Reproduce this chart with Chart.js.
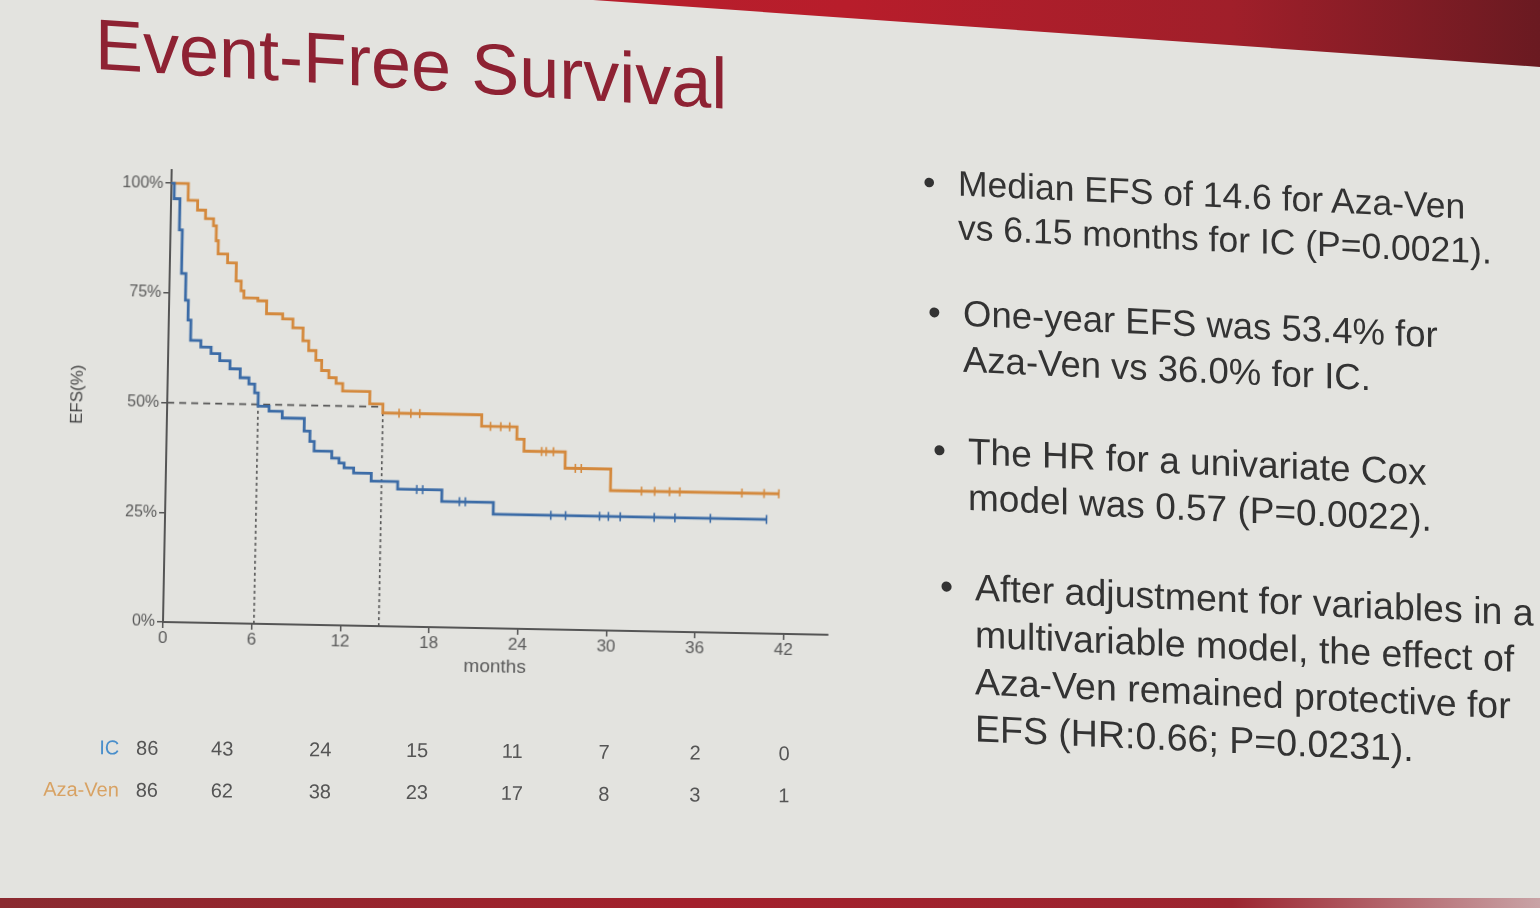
<!DOCTYPE html>
<html>
<head>
<meta charset="utf-8">
<title>Event-Free Survival</title>
<script src="https://cdn.jsdelivr.net/npm/chart.js@4.4.1/dist/chart.umd.min.js"></script>
<style>
  html, body { margin: 0; padding: 0; }
  body {
    position: relative; width: 1540px; height: 908px; overflow: hidden;
    background: #e3e3df; font-family: "Liberation Sans", Arial, sans-serif;
  }
  .band-top {
    position: absolute; left: 0; top: 0; width: 1540px; height: 70px;
    background: linear-gradient(90deg, #b3232f 0%, #b81d2b 55%, #a01f2a 80%, #6a1a21 100%);
    clip-path: polygon(593px 0, 1540px 0, 1540px 67px);
  }
  .band-bottom {
    position: absolute; left: 0; top: 898px; width: 1540px; height: 10px;
    background: linear-gradient(90deg, #8a2a30 0%, #a3202c 45%, #9c2530 80%, #c9a3a6 100%);
  }
  .title {
    position: absolute; left: 95px; top: 8px; margin: 0;
    font-size: 72px; line-height: 72px; font-weight: normal; color: #8e2233;
    white-space: nowrap; transform-origin: 0 60px; transform: skewY(3.6deg);
  }
  .chart-wrap {
    position: absolute; left: 0; top: 150px; width: 870px; height: 560px;
    transform-origin: 163px 472px; transform: rotate(1.1deg);
  }
  .bullets {
    position: absolute; left: 0; top: 0; width: 1540px; height: 908px;
    transform-origin: 925px 160px; transform: skewY(2.6deg);
    color: #333;
  }
  .b { position: absolute; white-space: nowrap; line-height: 1.25; }
  .b .dot { position: absolute; left: -35px; top: 0; }
  .risk {
    position: absolute; left: 0; top: 0; width: 900px; height: 908px;
    transform-origin: 120px 770px; transform: rotate(0.5deg);
    font-size: 20px; color: #555;
  }
  .risk span { position: absolute; transform: translate(-50%, -50%); white-space: nowrap; }
  .risk span.lab { transform: translate(-100%, -50%); }
</style>
</head>
<body>
<div class="band-top"></div>
<div class="band-bottom"></div>
<h1 class="title">Event-Free Survival</h1>

<div class="chart-wrap"><canvas id="efsChart"></canvas></div>

<div class="risk" id="riskTable"></div>

<div class="bullets">
  <div class="b" style="left:958px; top:160px; font-size:35.5px;"><span class="dot">•</span>Median EFS of 14.6 for Aza-Ven<br>vs 6.15 months for IC (P=0.0021).</div>
  <div class="b" style="left:963px; top:289px; font-size:36.5px;"><span class="dot">•</span>One-year EFS was 53.4% for<br>Aza-Ven vs 36.0% for IC.</div>
  <div class="b" style="left:968px; top:427px; font-size:37px;"><span class="dot">•</span>The HR for a univariate Cox<br>model was 0.57 (P=0.0022).</div>
  <div class="b" style="left:975px; top:562px; font-size:37.5px;"><span class="dot">•</span>After adjustment for variables in a<br>multivariable model, the effect of<br>Aza-Ven remained protective for<br>EFS (HR:0.66; P=0.0231).</div>
</div>

<script>
/* KM curves */

const xTicks = [0, 6, 12, 18, 24, 30, 36, 42];
const yTicks = [0, 25, 50, 75, 100];

const icTime = [0, 0.2, 0.6, 0.8, 1.1, 1.3, 1.5, 2.2, 2.9, 3.5, 4.2, 4.9, 5.5, 5.9, 6.15, 6.9, 7.8, 9.3, 9.7, 10.0, 11.2, 11.7, 12.05, 12.7, 13.9, 15.7, 18.7, 22.2, 40.7];
const icSurv = [100, 96.5, 89.4, 79.5, 73.4, 68.9, 64.3, 62.8, 61.4, 59.8, 58.0, 56.0, 54.6, 52.6, 49.6, 48.5, 47.0, 44.1, 41.8, 39.6, 38.1, 37.0, 35.9, 34.8, 33.0, 31.3, 28.7, 26.0, 26.0];
const icCensor = [17.0, 17.4, 19.9, 20.3, 26.1, 27.1, 29.4, 30.0, 30.8, 33.1, 34.5, 36.9, 40.7];

const azaTime = [0, 1.15, 1.8, 2.35, 2.9, 3.1, 3.25, 3.9, 4.5, 4.85, 5.05, 6.0, 6.6, 7.7, 8.4, 9.1, 9.5, 10.0, 10.4, 10.9, 11.4, 11.85, 13.7, 14.6, 21.3, 23.7, 24.2, 27.0, 30.1, 41.5];
const azaSurv = [100, 96.2, 94.0, 92.1, 90.5, 87.1, 84.1, 82.1, 78.0, 75.8, 74.2, 73.6, 70.7, 69.6, 67.6, 64.7, 62.5, 60.3, 58.0, 56.4, 55.1, 53.4, 50.6, 48.6, 46.0, 43.2, 40.5, 36.8, 31.9, 31.9];
const azaCensor = [15.7, 16.5, 17.1, 21.9, 22.6, 23.2, 25.4, 25.7, 26.2, 27.7, 28.1, 32.2, 33.1, 34.1, 34.8, 39.0, 40.5, 41.5];

const medianIC  = 6.15;
const medianAza = 14.6;

const riskGroups = ['IC', 'Aza-Ven'];
const icAtRisk   = [86, 43, 24, 15, 11, 7, 2, 0];
const azaAtRisk  = [86, 62, 38, 23, 17, 8, 3, 1];

const BLUE = '#3b6ba6', ORANGE = '#d4893d', AXIS = '#555555', TXT = '#5a5a5a';

Chart.defaults.font.family = '"Liberation Sans", Arial, sans-serif';

const toPoints = (t, s) => t.map((x, i) => ({ x, y: s[i] }));

// survival value at time t (last step at or before t)
function survAt(t, times, surv) {
  let v = surv[0];
  for (let i = 0; i < times.length; i++) if (times[i] <= t) v = surv[i];
  return v;
}
const censorPoints = (c, times, surv) => c.map(x => ({ x, y: survAt(x, times, surv) }));

const curve = (pts, color) => ({
  data: pts, stepped: true, borderColor: color, borderWidth: 2.8,
  pointRadius: 0, fill: false, order: 2,
});
const ticksSet = (pts, color) => ({
  data: pts, showLine: false, pointStyle: 'line', rotation: 90,
  pointRadius: 4.5, pointBorderWidth: 1.6, pointBorderColor: color, order: 1,
});
const dashed = (pts, dash) => ({
  data: pts, borderColor: AXIS, borderWidth: 1.6, borderDash: dash,
  pointRadius: 0, fill: false, order: 3,
});

const axisCommon = {
  grid: { display: true, drawOnChartArea: false, drawTicks: true, tickLength: 6, color: AXIS, lineWidth: 1.5 },
  border: { display: true, color: AXIS, width: 2 },
};

new Chart(document.getElementById('efsChart'), {
  type: 'line',
  data: {
    datasets: [
      curve(toPoints(icTime, icSurv), BLUE),
      curve(toPoints(azaTime, azaSurv), ORANGE),
      ticksSet(censorPoints(icCensor, icTime, icSurv), BLUE),
      ticksSet(censorPoints(azaCensor, azaTime, azaSurv), ORANGE),
      dashed([{ x: 0, y: 50 }, { x: medianAza, y: 50 }], [7, 5]),
      dashed([{ x: medianIC, y: 0 }, { x: medianIC, y: 50 }], [3, 3]),
      dashed([{ x: medianAza, y: 0 }, { x: medianAza, y: 50 }], [3, 3]),
    ],
  },
  options: {
    responsive: true, maintainAspectRatio: false, animation: false,
    layout: { padding: { left: 63, top: 20, right: 42, bottom: 38 } },
    plugins: { legend: { display: false }, tooltip: { enabled: false } },
    scales: {
      x: {
        type: 'linear', min: 0, max: 45,
        afterBuildTicks: s => { s.ticks = xTicks.map(v => ({ value: v })); },
        afterFit: s => { s.height = 50; },
        ...axisCommon,
        ticks: { color: TXT, font: { size: 17 }, padding: 0, maxRotation: 0 },
        title: { display: true, text: 'months', color: TXT, font: { size: 19 }, padding: 0 },
      },
      y: {
        type: 'linear', min: 0, max: 103,
        afterBuildTicks: s => { s.ticks = yTicks.map(v => ({ value: v })); },
        afterFit: s => { s.width = 100; },
        ...axisCommon,
        ticks: { color: TXT, font: { size: 16 }, padding: 2, callback: v => v + '%' },
        title: { display: true, text: 'EFS(%)', color: '#444', font: { size: 17 }, padding: 0 },
      },
    },
  },
});

// numbers at risk table
const riskCols = [147, 222, 320, 417, 512, 604, 695, 784];
const riskRows = [
  { label: riskGroups[0], color: '#4a8fcb', y: 748, values: icAtRisk },
  { label: riskGroups[1], color: '#d8a263', y: 790, values: azaAtRisk },
];
const table = document.getElementById('riskTable');
riskRows.forEach(r => {
  const lab = document.createElement('span');
  lab.className = 'lab';
  lab.textContent = r.label;
  lab.style.cssText = `left:119px; top:${r.y}px; color:${r.color};`;
  table.appendChild(lab);
  r.values.forEach((v, i) => {
    const s = document.createElement('span');
    s.textContent = v;
    s.style.cssText = `left:${riskCols[i]}px; top:${r.y}px;`;
    table.appendChild(s);
  });
});
</script>
</body>
</html>
